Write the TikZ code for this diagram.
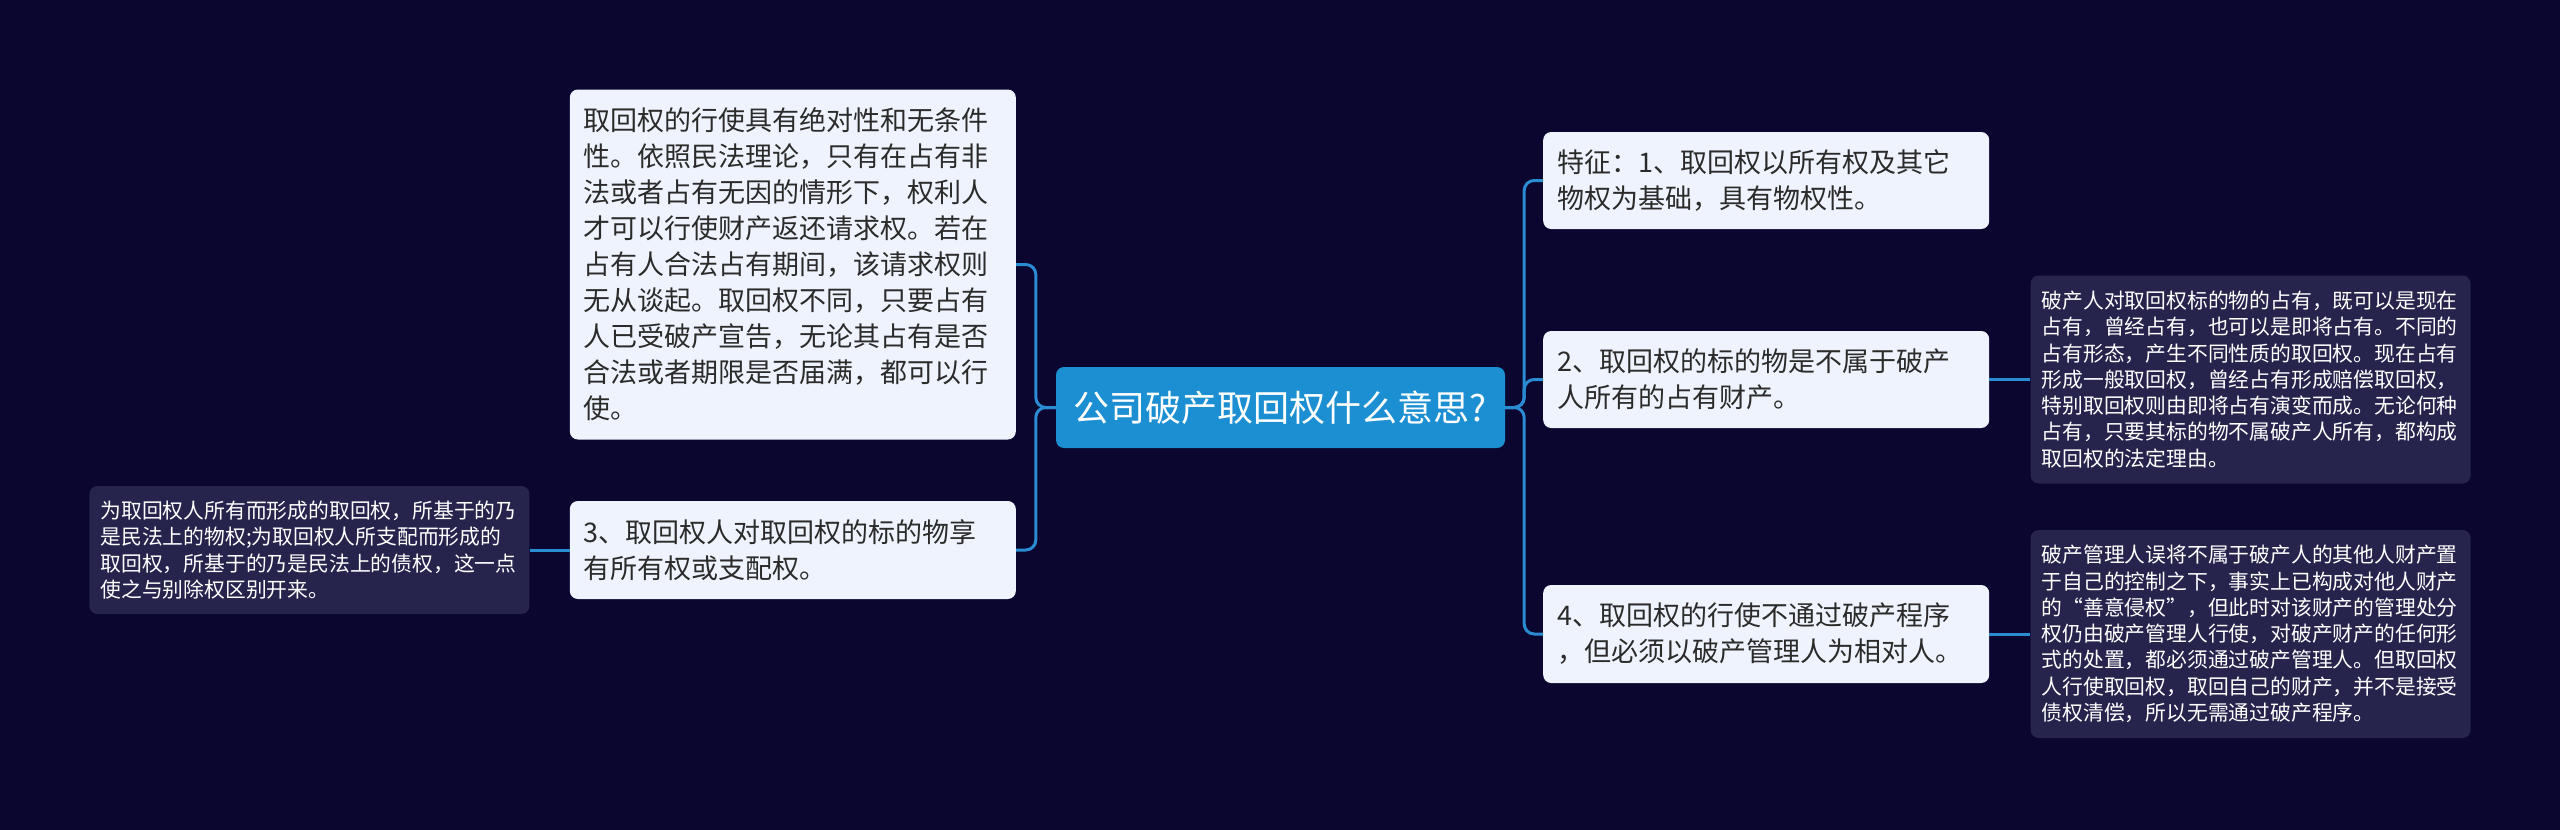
\documentclass[tikz,border=0pt]{standalone}
\usepackage{fontspec}
\setmainfont{Noto Sans CJK SC}
\usepackage{xcolor}
\usetikzlibrary{positioning, calc}
\definecolor{bgnavy}{HTML}{0A0630}
\definecolor{rootblue}{HTML}{1C8FD3}
\definecolor{paleblue}{HTML}{EEF3FD}
\definecolor{notebg}{HTML}{26234D}
\definecolor{linkblue}{HTML}{2A8DD4}
\definecolor{inkgray}{HTML}{2B2B2B}

\begin{document}
\begin{tikzpicture}[x=1pt, y=-1pt,
    every node/.style={rounded corners=8pt, inner sep=0pt, align=left},
    topic/.style={fill=rootblue, text=white, minimum width=449pt, minimum height=81pt,
        align=center, font=\fontsize{36}{44}\selectfont},
    branch/.style={fill=paleblue, text=inkgray, text width=418pt, minimum height=98pt,
        inner xsep=14pt, font=\fontsize{27}{36}\selectfont},
    memo/.style={fill=notebg, text=white, text width=418pt, inner xsep=11pt,
        font=\fontsize{20.8}{26.3}\selectfont},
    link/.style={draw=linkblue, line width=3pt, rounded corners=10pt}]
    \fill[bgnavy] (0,0) rectangle (2560,830);
    \useasboundingbox (0,0) rectangle (2560,830);

    \node[topic] (root) at (1280.5,407.5) {公司破产取回权什么意思?};

    % left side
    \node[branch, minimum height=350pt, anchor=east] (absolute) at (1016,264.5)
        {取回权的行使具有绝对性和无条件\\性。依照民法理论，只有在占有非\\法或者占有无因的情形下，权利人\\才可以行使财产返还请求权。若在\\占有人合法占有期间，该请求权则\\无从谈起。取回权不同，只要占有\\人已受破产宣告，无论其占有是否\\合法或者期限是否届满，都可以行\\使。};
    \node[branch, anchor=east] (feat3) at (1016,550)
        {3、取回权人对取回权的标的物享\\有所有权或支配权。};
    \node[memo, minimum height=128pt, left=40pt of feat3] (memo3)
        {为取回权人所有而形成的取回权，所基于的乃\\是民法上的物权;为取回权人所支配而形成的\\取回权，所基于的乃是民法上的债权，这一点\\使之与别除权区别开来。};

    % right side
    \node[branch, minimum height=97pt, anchor=west] (feat1) at (1543,180.5)
        {特征：1、取回权以所有权及其它\\物权为基础，具有物权性。};
    \node[branch, minimum height=97pt, anchor=west] (feat2) at (1543,379.5)
        {2、取回权的标的物是不属于破产\\人所有的占有财产。};
    \node[branch, anchor=west] (feat4) at (1543,634)
        {4、取回权的行使不通过破产程序\\，但必须以破产管理人为相对人。};
    \node[memo, minimum height=208pt, right=41pt of feat2] (memo2)
        {破产人对取回权标的物的占有，既可以是现在\\占有，曾经占有，也可以是即将占有。不同的\\占有形态，产生不同性质的取回权。现在占有\\形成一般取回权，曾经占有形成赔偿取回权，\\特别取回权则由即将占有演变而成。无论何种\\占有，只要其标的物不属破产人所有，都构成\\取回权的法定理由。};
    \node[memo, minimum height=208pt, right=41pt of feat4] (memo4)
        {破产管理人误将不属于破产人的其他人财产置\\于自己的控制之下，事实上已构成对他人财产\\的“善意侵权”，但此时对该财产的管理处分\\权仍由破产管理人行使，对破产财产的任何形\\式的处置，都必须通过破产管理人。但取回权\\人行使取回权，取回自己的财产，并不是接受\\债权清偿，所以无需通过破产程序。};

    % connectors
    \draw[link] (root.west) -- ++(-20,0) |- (absolute.east);
    \draw[link] (root.west) -- ++(-20,0) |- (feat3.east);
    \draw[link] (feat3.west) -- (memo3.east);
    \draw[link] (root.east) -- ++(19,0) |- (feat1.west);
    \draw[link] (root.east) -- ++(19,0) |- (feat2.west);
    \draw[link] (root.east) -- ++(19,0) |- (feat4.west);
    \draw[link] (feat2.east) -- (memo2.west);
    \draw[link] (feat4.east) -- (memo4.west);
\end{tikzpicture}
\end{document}
